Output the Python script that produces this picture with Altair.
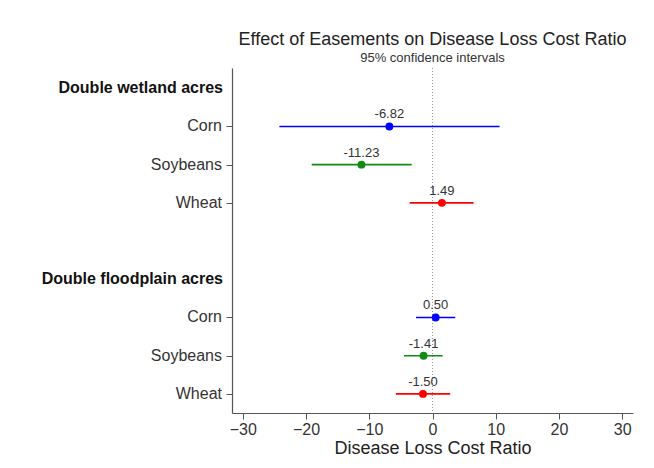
import altair as alt
import pandas as pd

# ---- data ----
groups = ["Double wetland acres"] * 3 + ["Double floodplain acres"] * 3
crops = ["Corn", "Soybeans", "Wheat", "Corn", "Soybeans", "Wheat"]
estimates = [-6.82, -11.23, 1.49, 0.50, -1.41, -1.50]
lower = [-24.2, -19.1, -3.6, -2.6, -4.5, -5.8]
upper = [10.6, -3.3, 6.5, 3.6, 1.6, 2.8]
row_pos = [1, 2, 3, 6, 7, 8]

header_text = ["Double wetland acres", "Double floodplain acres"]
header_pos = [0, 5]

x_ticks = [-30, -20, -10, 0, 10, 20, 30]
crop_order = ["Corn", "Soybeans", "Wheat"]
crop_colors = ["#0000ff", "#138a13", "#ff0000"]

FONT = "Liberation Sans"

df = pd.DataFrame({
    "group": groups, "crop": crops, "est": estimates,
    "lo": lower, "hi": upper, "pos": row_pos,
    "label": [f"{v:.2f}" for v in estimates],
})
hdr = pd.DataFrame({"text": header_text, "pos": header_pos})
zero = pd.DataFrame({"x": [0]})

xscale = alt.Scale(domain=[-31.7, 31.7], nice=False, zero=False)
yscale = alt.Scale(domain=[-0.53, 8.5], reverse=True, nice=False, zero=False)

xaxis = alt.Axis(values=x_ticks, format="d", title="Disease Loss Cost Ratio",
                 grid=False, labelFontSize=16, titleFontSize=18,
                 labelFont=FONT, titleFont=FONT, labelColor="#333333",
                 titleColor="#222222", titleFontWeight="normal",
                 domainColor="#555555", tickColor="#555555", tickSize=6,
                 labelPadding=2, titlePadding=2, domainWidth=1.2)
yaxis = alt.Axis(values=row_pos, labels=False, title=None, grid=False,
                 domainColor="#555555", tickColor="#555555", tickSize=6,
                 domainWidth=1.2)

color = alt.Color("crop:N", scale=alt.Scale(domain=crop_order, range=crop_colors),
                  legend=None)

base = alt.Chart(df)

ref = alt.Chart(zero).mark_rule(color="#999999", strokeDash=[1, 2],
                                strokeWidth=1).encode(
    x=alt.X("x:Q", scale=xscale, axis=xaxis))

bars = base.mark_rule(strokeWidth=1.6).encode(
    x=alt.X("lo:Q", scale=xscale, axis=xaxis),
    x2="hi:Q",
    y=alt.Y("pos:Q", scale=yscale, axis=yaxis),
    color=color,
)

pts = base.mark_circle(size=62, opacity=1).encode(
    x=alt.X("est:Q", scale=xscale),
    y=alt.Y("pos:Q", scale=yscale),
    color=color,
)

vals = base.mark_text(fontSize=13, font=FONT, color="#333333",
                      baseline="bottom", dy=-5).encode(
    x=alt.X("est:Q", scale=xscale),
    y=alt.Y("pos:Q", scale=yscale),
    text="label:N",
)

ylabels = base.mark_text(fontSize=16, font=FONT, color="#333333",
                         align="right", baseline="middle").encode(
    x=alt.value(-10),
    y=alt.Y("pos:Q", scale=yscale),
    text="crop:N",
)

headers = alt.Chart(hdr).mark_text(fontSize=16, font=FONT, fontWeight="bold",
                                   color="#111111", align="right",
                                   baseline="middle").encode(
    x=alt.value(-9),
    y=alt.Y("pos:Q", scale=yscale),
    text="text:N",
)

chart = alt.layer(ref, bars, pts, vals, ylabels, headers).properties(
    width=401,
    height=345,
    background="white",
    padding={"left": 224, "top": 60, "right": 10, "bottom": 52},
    autosize=alt.AutoSizeParams(type="none"),
    title=alt.TitleParams(
        text="Effect of Easements on Disease Loss Cost Ratio",
        subtitle="95% confidence intervals",
        fontSize=18, subtitleFontSize=13, font=FONT, subtitleFont=FONT,
        fontWeight="normal", color="#222222", subtitleColor="#333333",
        anchor="middle", offset=3, subtitlePadding=3,
    ),
).configure_view(stroke="transparent", strokeWidth=0)

chart.save("out.html", embed_options={"renderer": "svg", "actions": False})
